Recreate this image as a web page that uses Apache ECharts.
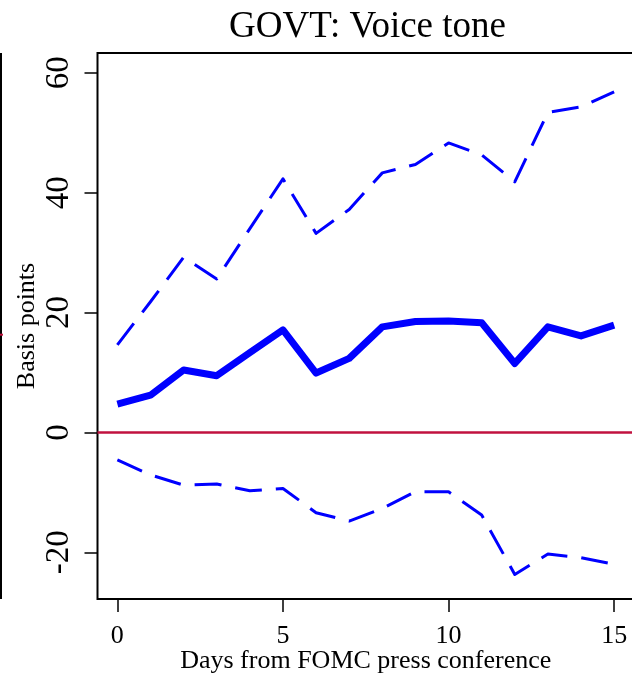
<!DOCTYPE html>
<html>
<head>
<meta charset="utf-8">
<script src="https://cdn.jsdelivr.net/npm/echarts@6/dist/echarts.min.js"></script>
<style>html,body{margin:0;padding:0;background:#fff;}#c{width:632px;height:675px;}</style>
</head>
<body>
<div id="c"></div>
<script>
const days = [0,1,2,3,4,5,6,7,8,9,10,11,12,13,14,15];
const meanBp = [4.7,6.2,10.4,9.45,13.3,17.1,9.9,12.35,17.6,18.5,18.6,18.3,11.5,17.6,16.1,17.9];
const upperBp = [14.6,21.8,29.2,25.6,34.0,42.3,33.2,37.2,43.3,44.7,48.3,46.3,41.8,53.4,54.3,56.8];
const lowerBp = [-4.6,-7.1,-8.8,-8.6,-9.75,-9.35,-13.4,-14.8,-12.7,-9.9,-9.9,-13.8,-23.7,-20.3,-20.9,-22.0];
const xTicks = [0,5,10,15];
const yTicks = [-20,0,20,40,60];

const FONT = '"Liberation Serif", "Times New Roman", serif';
const pair = (xs, ys) => xs.map((x, i) => [x, ys[i]]);

const chart = echarts.init(document.getElementById('c'), null, {renderer: 'canvas'});
chart.setOption({
  animation: false,
  backgroundColor: '#fff',
  title: {
    text: 'GOVT: Voice tone',
    left: 224, top: 4,
    textStyle: {fontFamily: FONT, fontSize: 37, fontWeight: 'normal', color: '#000'}
  },
  grid: {left: 97.5, right: -2, top: 53, bottom: 76, outerBoundsMode: 'none', containLabel: false,
         show: true, borderColor: '#000', borderWidth: 2, backgroundColor: 'transparent'},
  xAxis: {
    type: 'value', min: -0.6, max: 15.6,
    name: 'Days from FOMC press conference', nameLocation: 'middle', nameGap: 49, nameMoveOverlap: false,
    nameTextStyle: {fontFamily: FONT, fontSize: 26, color: '#000'},
    axisLine: {show: false, onZero: false},
    axisTick: {show: true, inside: false, customValues: xTicks, length: 13, lineStyle: {color: '#000', width: 1.5}},
    axisLabel: {customValues: xTicks, margin: 24, fontFamily: FONT, fontSize: 26, color: '#000'},
    splitLine: {show: false}
  },
  yAxis: {
    type: 'value', min: -27.8, max: 63.3,
    name: 'Basis points', nameLocation: 'middle', nameGap: 57, nameRotate: 90, nameMoveOverlap: false,
    nameTextStyle: {fontFamily: FONT, fontSize: 26, color: '#000'},
    axisLine: {show: false, onZero: false},
    axisTick: {show: true, inside: false, customValues: yTicks, length: 13, lineStyle: {color: '#000', width: 1.5}},
    axisLabel: {customValues: yTicks, rotate: 90, margin: 22, fontFamily: FONT, fontSize: 33, color: '#000'},
    splitLine: {show: false}
  },
  series: [
    {
      type: 'line', data: pair(days, upperBp), symbol: 'none', silent: true,
      lineStyle: {color: '#0000FF', width: 3, type: [27, 14], cap: 'butt', join: 'round'}
    },
    {
      type: 'line', data: pair(days, lowerBp), symbol: 'none', silent: true,
      lineStyle: {color: '#0000FF', width: 3, type: [27, 14], cap: 'butt', join: 'round'}
    },
    {
      type: 'line', data: pair(days, meanBp), symbol: 'none', silent: true, z: 3,
      lineStyle: {color: '#0000FF', width: 7, cap: 'butt', join: 'round'},
      markLine: {
        silent: true, symbol: 'none', label: {show: false},
        lineStyle: {color: '#C1123F', width: 2.5, type: 'solid'},
        data: [{yAxis: 0}]
      }
    }
  ],
  graphic: [
    {type: 'line', shape: {x1: 1, y1: 53, x2: 1, y2: 599}, style: {stroke: '#000', lineWidth: 2}, silent: true},
    {type: 'line', shape: {x1: 0, y1: 334.7, x2: 3, y2: 334.7}, style: {stroke: '#C1123F', lineWidth: 2}, silent: true}
  ]
});
</script>
</body>
</html>
